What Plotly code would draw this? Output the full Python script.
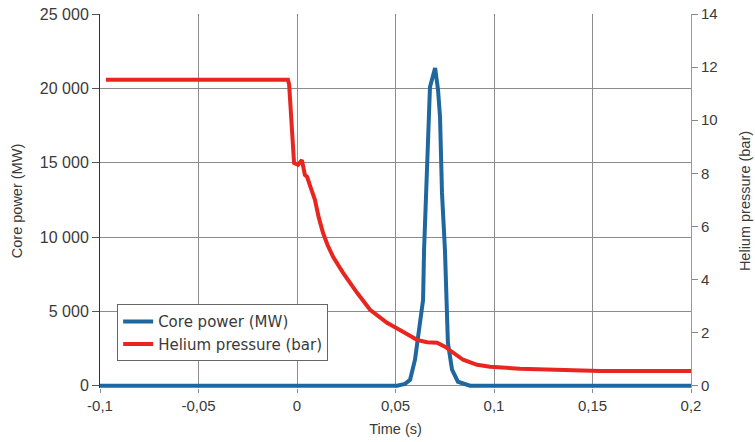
import plotly.graph_objects as go

# Core power (MW) vs time (s)
power_t = [-0.1, -0.05, 0.0, 0.03, 0.0508, 0.0548, 0.0574, 0.0599, 0.0614, 0.0629, 0.0640,
           0.0645, 0.0655, 0.0665, 0.0675, 0.0701, 0.0716, 0.0726, 0.0736, 0.0751,
           0.0766, 0.0787, 0.0817, 0.0878, 0.12, 0.2]
power_mw = [0, 0, 0, -20, 0, 130, 400, 1750, 3430, 4770, 5780,
            9140, 13170, 17880, 20090, 21370, 19890, 18080, 12970, 9140,
            2890, 1080, 270, 0, 0, 0]

# Helium pressure (bar) vs time (s)
press_t = [-0.097, -0.05, -0.0046, -0.0040, -0.0036, -0.0025, -0.0015, 0.0005, 0.0025, 0.0040, 0.0051,
           0.0070, 0.0091, 0.0110, 0.0132, 0.0155, 0.0183, 0.0234, 0.0270, 0.0305, 0.0371,
           0.0457, 0.0538, 0.0609, 0.0660,
           0.0711, 0.0751, 0.0792, 0.0843, 0.0914, 0.098, 0.1132, 0.1538, 0.2]
press_bar = [11.52, 11.52, 11.52, 11.35, 10.76, 9.26, 8.39, 8.32, 8.5, 7.94, 7.87,
             7.45, 7.0, 6.35, 5.76, 5.3, 4.86, 4.25, 3.85, 3.5, 2.86,
             2.37, 2.03, 1.73, 1.64,
             1.62, 1.47, 1.24, 0.98, 0.79, 0.72, 0.64, 0.56, 0.56]

x_tickvals = [-0.1, -0.05, 0, 0.05, 0.1, 0.15, 0.2]
x_ticktext = ["-0,1", "-0,05", "0", "0,05", "0,1", "0,15", "0,2"]
y_tickvals = [0, 5000, 10000, 15000, 20000, 25000]
y_ticktext = ["0", "5 000", "10 000", "15 000", "20 000", "25 000"]
y2_tickvals = [0, 2, 4, 6, 8, 10, 12, 14]

BLUE = "#1f679f"
RED = "#e8261f"
GRID = "#8c8c8c"
TXT = "#3a3a3a"
FONT = "Liberation Sans, Arial, sans-serif"

fig = go.Figure()
fig.add_trace(go.Scatter(x=power_t, y=power_mw, mode="lines", name="Core power (MW)",
                         line=dict(color=BLUE, width=4), yaxis="y"))
fig.add_trace(go.Scatter(x=press_t, y=press_bar, mode="lines", name="Helium pressure (bar)",
                         line=dict(color=RED, width=4), yaxis="y2"))

ymin = -150
fig.update_layout(
    width=755, height=442,
    margin=dict(l=100, r=64, t=14, b=54),
    paper_bgcolor="white", plot_bgcolor="white",
    font=dict(family=FONT, color=TXT, size=15),
    showlegend=True,
    legend=dict(x=0.029, y=0.224, xanchor="left", yanchor="top",
                bordercolor="#666", borderwidth=1, bgcolor="white",
                font=dict(size=15, color=TXT, family="DejaVu Sans, sans-serif"),
                tracegroupgap=0),
    xaxis=dict(range=[-0.1, 0.2], tickvals=x_tickvals, ticktext=x_ticktext,
               showgrid=True, gridcolor=GRID, gridwidth=1, zeroline=False,
               showline=False, ticks="outside", ticklen=4, tickcolor=GRID,
               tickfont=dict(size=15), automargin=False,
               title=dict(text="Time (s)", font=dict(size=14.5), standoff=10)),
    yaxis=dict(range=[ymin, 25000], tickvals=y_tickvals, ticktext=y_ticktext,
               showgrid=True, gridcolor=GRID, gridwidth=1, zeroline=False,
               showline=True, linecolor="#333", linewidth=1,
               ticks="outside", ticklen=7, tickcolor="#555",
               tickfont=dict(size=16), automargin=False,
               title=dict(text="Core power (MW)", font=dict(size=14.5), standoff=13)),
    yaxis2=dict(range=[ymin * 14 / 25000, 14], tickvals=y2_tickvals, overlaying="y", side="right",
                showgrid=False, zeroline=False, showline=True, linecolor="#999", linewidth=1,
                ticks="outside", ticklen=6, tickcolor="#888",
                tickfont=dict(size=15), automargin=False,
                title=dict(text="Helium pressure (bar)", font=dict(size=14.5), standoff=23)),
)

fig.write_html("out.html", config={"displayModeBar": False},
               post_script="document.body.style.margin='0px';")
